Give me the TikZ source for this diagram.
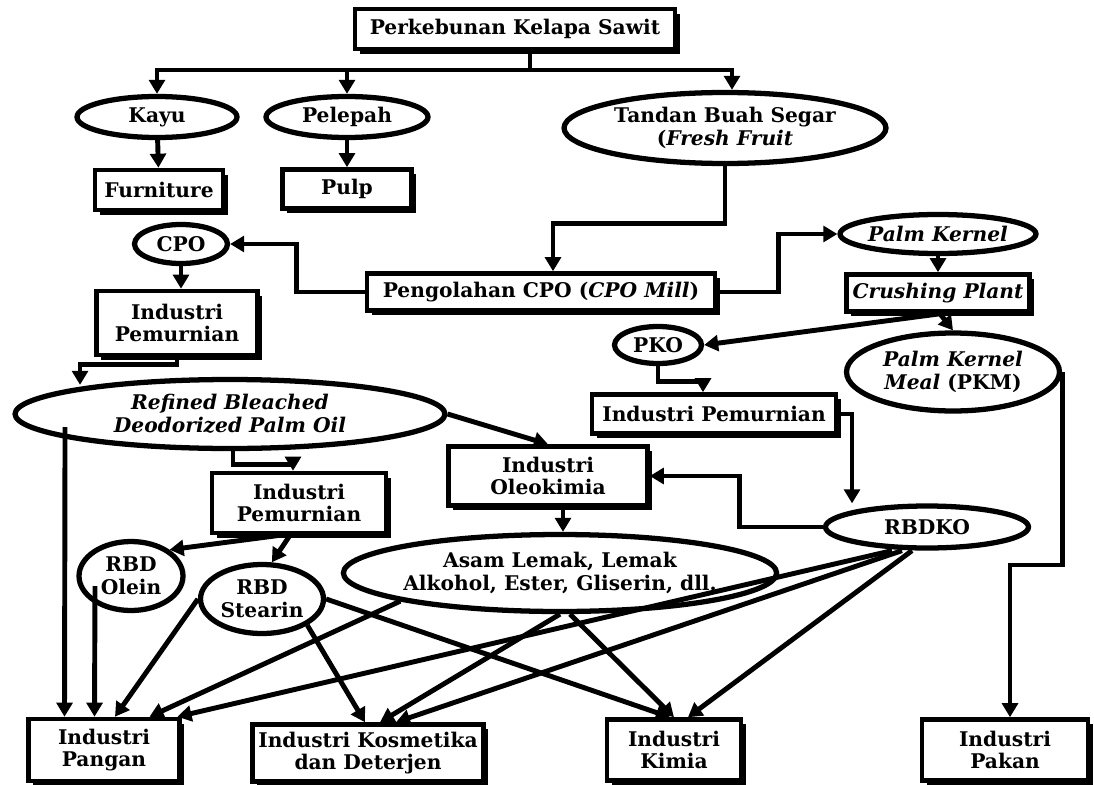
\documentclass[tikz,border=0pt]{standalone}
\usepackage{fontspec}
\setmainfont{DejaVu Serif}
\usetikzlibrary{arrows.meta,shapes.geometric,shadows}

\begin{document}
\begin{tikzpicture}[x = .02cm, y = -.02cm,
		font = \fontsize{11.5}{13}\selectfont\bfseries,
		box/.style = {draw, line width = 2.6pt, fill = white, align = center, inner sep = 1pt,
			drop shadow = {shadow xshift = 2.8pt, shadow yshift = -2.8pt, fill = black, opacity = 1}},
		oval/.style = {ellipse, draw, line width = 3pt, fill = white, align = center, inner sep = -2pt},
		arr/.style = {line width = 2.8pt, -{Triangle[length = 8pt, width = 9pt]}}]
		\useasboundingbox (0,0) rectangle (1094,784);
		\node[box, minimum width = 6.4cm, minimum height = .8cm] (sawit) at (515,29) {Perkebunan Kelapa Sawit};
		\node[oval, minimum width = 3.2cm, minimum height = .82cm] (kayu) at (157,117) {Kayu};
		\node[oval, minimum width = 3.24cm, minimum height = .82cm] (pelepah) at (347,117) {Pelepah};
		\node[oval, minimum width = 6.44cm, minimum height = 1.42cm] (tbs) at (725,128) {Tandan Buah Segar\\(\textit{Fresh Fruit}};
		\node[box, minimum width = 2.56cm, minimum height = .8cm] (furniture) at (159,190) {Furniture};
		\node[box, minimum width = 2.58cm, minimum height = .78cm] (pulp) at (347,189) {Pulp};
		\node[oval, minimum width = 1.86cm, minimum height = .78cm] (cpo) at (181,244) {CPO};
		\node[box, minimum width = 6.96cm, minimum height = .74cm] (mill) at (541,292) {Pengolahan CPO (\textit{CPO Mill})};
		\node[oval, minimum width = 3.92cm, minimum height = .78cm] (pk) at (938,234) {\textit{Palm Kernel}};
		\node[box, minimum width = 3.66cm, minimum height = .74cm] (crush) at (938,293) {\textit{Crushing Plant}};
		\node[box, minimum width = 3.22cm, minimum height = 1.28cm] (ipl) at (177,323) {Industri\\Pemurnian};
		\node[oval, minimum width = 1.74cm, minimum height = .74cm] (pko) at (658,345) {PKO};
		\node[oval, minimum width = 4.26cm, minimum height = 1.56cm] (pkm) at (953,372) {\textit{Palm Kernel}\\\textit{Meal} (PKM)};
		\node[oval, minimum width = 8.6cm, minimum height = 1.38cm] (rbdpo) at (230,414) {\textit{Refined Bleached}\\\textit{Deodorized Palm Oil}};
		\node[box, minimum width = 4.88cm, minimum height = .78cm] (ipr) at (714,414) {Industri Pemurnian};
		\node[box, minimum width = 3.98cm, minimum height = 1.18cm] (oleo) at (548,476) {Industri\\Oleokimia};
		\node[box, minimum width = 3.48cm, minimum height = 1.2cm] (ipm) at (299,503) {Industri\\Pemurnian};
		\node[oval, minimum width = 4.06cm, minimum height = .84cm] (rbdko) at (927,527) {RBDKO};
		\node[oval, minimum width = 2.08cm, minimum height = 1.38cm] (olein) at (131,576) {RBD\\Olein};
		\node[oval, minimum width = 2.46cm, minimum height = 1.38cm] (stearin) at (262,599) {RBD\\Stearin};
		\node[oval, minimum width = 8.5cm, minimum height = 1.54cm] (asam) at (560,573) {Asam Lemak, Lemak\\Alkohol, Ester, Gliserin, dll.};
		\node[box, minimum width = 3.02cm, minimum height = 1.24cm] (pangan) at (104,750) {Industri\\Pangan};
		\node[box, minimum width = 4.62cm, minimum height = 1.14cm] (kosm) at (368,753) {Industri Kosmetika\\dan Deterjen};
		\node[box, minimum width = 2.68cm, minimum height = 1.22cm] (kimia) at (674,750) {Industri\\Kimia};
		\node[box, minimum width = 3.32cm, minimum height = 1.22cm] (pakan) at (1005,750) {Industri\\Pakan};

		\coordinate (fork) at (530,70);
		\draw[line width = 2.8pt] (sawit.south -| fork) -- (fork);
		\draw[arr] (fork) -| (kayu.north);
		\draw[arr] (fork) -| (pelepah.north);
		\draw[arr] (fork) -| ([xshift = .14cm]tbs.north);
		\draw[arr] (kayu) -- (furniture);
		\draw[arr] (pelepah) -- (pulp);
		\draw[arr] (tbs.south) -- ++(0,57) -| ([xshift = .24cm]mill.north);
		\draw[arr] (mill.west) -- ++(-68,0) |- (cpo.east);
		\draw[arr] (mill.east) -- ++(61,0) |- (pk.west);
		\draw[arr] (cpo.south) -- (cpo.south |- ipl.north);
		\draw[arr] (pk.south) -- (crush.north);
		\draw[arr] (ipl.south) -- ++(0,7) -| ([xshift = -3cm, yshift = -.16cm]rbdpo.north);
		\draw[arr] ([xshift = .04cm]crush.south) -- (pko.east);
		\draw[arr] ([xshift = .04cm]crush.south) -- (pkm.north);
		\draw[arr] (pko.south) -- ++(0,15) -| ([xshift = -.22cm]ipr.north);
		\draw[arr] (ipr.east) -| ([xshift = -1.5cm]rbdko.north);
		\draw[arr] (rbdko.west) -- ++(-83,0) |- (oleo.east);
		\draw[arr] (pkm.east) -- ++(0,193) -| ([xshift = .1cm]pakan.north);
		\draw[arr] (rbdpo.east) -- (oleo.north);
		\draw[arr] ([xshift = .06cm]rbdpo.south) -- ++(0,13) -| ([xshift = -.12cm]ipm.north);
		\draw[arr] ([xshift = .3cm]oleo.south) -- ([xshift = .3cm]oleo.south |- asam.north);
		\draw[arr] ([xshift = -.38cm]ipm.south) -- (olein.north east);
		\draw[arr] ([xshift = -.18cm]ipm.south) -- (stearin.75);
		\draw[arr] ([xshift = -3.3cm, yshift = -.26cm]rbdpo.center) -- ([xshift = -.79cm]pangan.north);
		\draw[arr] ([xshift = -.72cm, yshift = -.2cm]olein.center) -- ([xshift = -.19cm]pangan.north);
		\foreach \s/\sx/\t/\tx in {stearin.west/0/pangan/.22, asam.190/0/pangan/.91, rbdko.south/-.7/pangan/1.47,
			stearin.south east/0/kosm/-.06, asam.south/0/kosm/.24, rbdko.south/-.5/kosm/.56,
			stearin.east/0/kimia/-.08, asam.south/.2/kimia/0, rbdko.south/-.3/kimia/.28}
			\draw[arr] ([xshift = \sx cm]\s) -- ([xshift = \tx cm]\t.north);
\end{tikzpicture}
\end{document}
